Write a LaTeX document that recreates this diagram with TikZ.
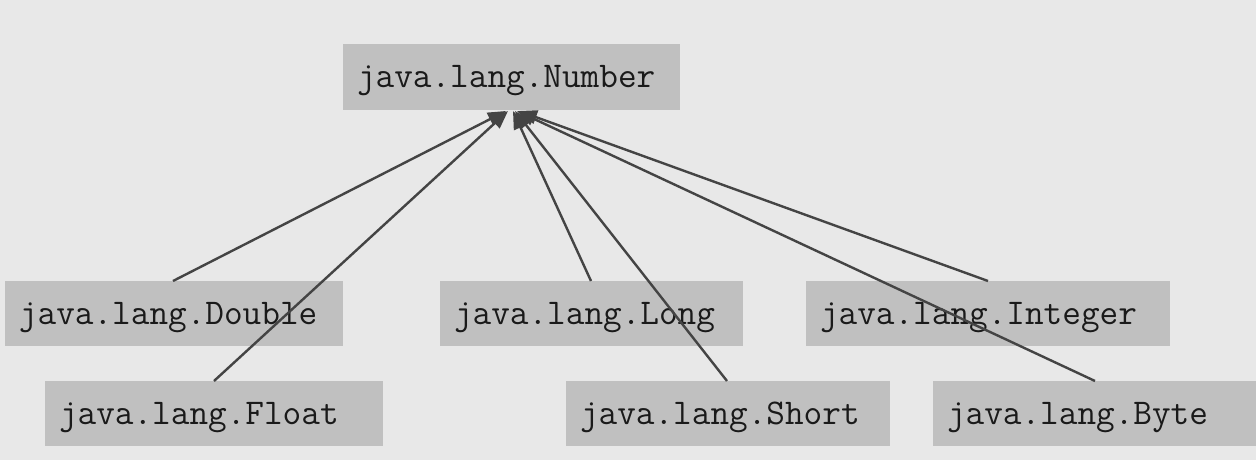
\documentclass[tikz,border=0pt]{standalone}
\usetikzlibrary{arrows.meta}
\definecolor{bg}{HTML}{E8E8E8}
\definecolor{boxfill}{HTML}{C0C0C0}
\definecolor{lineclr}{HTML}{444444}
\definecolor{txt}{HTML}{1A1A1A}
\begin{document}
\begin{tikzpicture}[x=1pt,y=-1pt,
  cls/.style={rectangle, fill=boxfill, draw=none, minimum height=65pt, inner sep=0pt,
    font=\ttfamily\fontsize{36.2}{40}\selectfont, text=txt, align=left,
    text height=22pt, text depth=0pt},
  inh/.style={draw=lineclr, line width=2.4pt, -{Triangle[length=18pt,width=14pt]}}]
\fill[bg] (0,0) rectangle (1256,460);
\useasboundingbox (0,0) rectangle (1256,460);
% class boxes (centers computed from pixel extents)
\node[cls, minimum width=337pt, text width=309pt] (num) at (511.5,77) {java.lang.Number};
\node[cls, minimum width=338pt, text width=310pt] (dbl) at (174,313.5) {java.lang.Double};
\node[cls, minimum width=303pt, text width=275pt] (lng) at (591.5,313.5) {java.lang.Long};
\node[cls, minimum width=364pt, text width=336pt] (int) at (988,313.5) {java.lang.Integer};
\node[cls, minimum width=338pt, text width=310pt] (flt) at (214,413.5) {java.lang.Float};
\node[cls, minimum width=324pt, text width=296pt] (sht) at (728,413.5) {java.lang.Short};
\node[cls, minimum width=323pt, text width=295pt] (byt) at (1094.5,413.5) {java.lang.Byte};
% connector end points
\coordinate (sDbl) at (173,281);
\coordinate (sFlt) at (214,381);
\coordinate (sLng) at (591,281);
\coordinate (sSht) at (727,381);
\coordinate (sInt) at (988,281);
\coordinate (sByt) at (1095,381);
\coordinate (tDbl) at (506,111);
\coordinate (tFlt) at (508,111);
\coordinate (tLng) at (513,111);
\coordinate (tSht) at (515,111);
\coordinate (tInt) at (519,111);
\coordinate (tByt) at (517,111);
\draw[inh] (sDbl) -- (tDbl);
\draw[inh] (sFlt) -- (tFlt);
\draw[inh] (sLng) -- (tLng);
\draw[inh] (sSht) -- (tSht);
\draw[inh] (sInt) -- (tInt);
\draw[inh] (sByt) -- (tByt);
\end{tikzpicture}
\end{document}
